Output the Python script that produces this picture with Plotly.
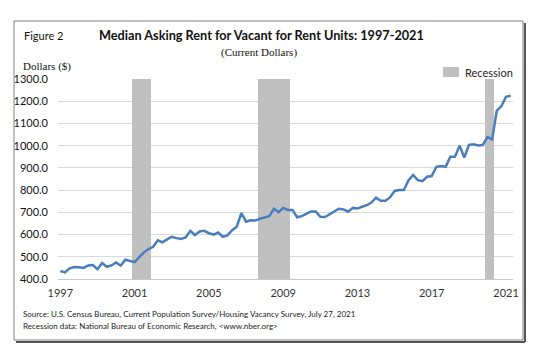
import plotly.graph_objects as go

# ---- data (quarterly, 1997Q1 - 2021Q2) ----
years = list(range(1997, 2022))
quarters = [f"{y}Q{q}" for y in years for q in range(1, 5)][:98]

rent = [
    436, 430, 448, 454,      # 1997
    453, 450, 461, 463,      # 1998
    444, 472, 455, 461,      # 1999
    474, 460, 487, 482,      # 2000
    476, 498, 520, 535,      # 2001
    545, 574, 565, 578,      # 2002
    590, 584, 580, 587,      # 2003
    617, 598, 614, 617,      # 2004
    606, 600, 609, 590,      # 2005
    596, 620, 635, 697,      # 2006
    658, 664, 663, 671,      # 2007
    676, 683, 716, 701,      # 2008
    720, 711, 711, 678,      # 2009
    683, 692, 704, 704,      # 2010
    680, 679, 691, 706,      # 2011
    716, 713, 703, 720,      # 2012
    717, 725, 732, 744,      # 2013
    766, 752, 752, 767,      # 2014
    796, 800, 800, 845,      # 2015
    868, 845, 840, 860,      # 2016
    863, 905, 908, 905,      # 2017
    950, 950, 1000, 946,     # 2018
    1003, 1006, 1001, 1003,  # 2019
    1038, 1028, 1157, 1178,  # 2020
    1220, 1225,              # 2021
]

recession_quarters = ["2001Q1", "2001Q2", "2001Q3", "2001Q4",
                      "2007Q4", "2008Q1", "2008Q2", "2008Q3", "2008Q4", "2009Q1", "2009Q2",
                      "2020Q1", "2020Q2"]

tick_labels = ["1997", "2001", "2005", "2009", "2013", "2017", "2021"]
tick_quarters = [f"{t}Q1" for t in tick_labels]

y_min, y_max = 400, 1300

# ---- build ----
idx = list(range(len(quarters)))
rec_x = [quarters.index(q) for q in recession_quarters]
rec_y = [y_max] * len(rec_x)
tick_vals = [quarters.index(q) for q in tick_quarters]

fig = go.Figure()
fig.add_trace(go.Bar(
    x=rec_x, y=rec_y, width=1.0, name="Recession",
    marker=dict(color="#c0c0c0", line=dict(width=0)),
    showlegend=False, hoverinfo="skip",
))
fig.add_trace(go.Scatter(
    x=idx, y=rent, mode="lines", name="Median asking rent",
    line=dict(color="#4a7ebb", width=2.5),
    showlegend=False,
))

FONT = "Lato, 'Open Sans', sans-serif"
SERIF = "'Liberation Serif', 'DejaVu Serif', serif"

L, R, T, B = 58, 40, 79, 81
W, H = 553, 360
pw, ph = W - L - R, H - T - B


def px(xp):
    return (xp - L) / pw


def py(yp):
    return (H - B - yp) / ph


fig.update_layout(
    width=W, height=H,
    margin=dict(l=L, r=R, t=T, b=B),
    paper_bgcolor="white", plot_bgcolor="white",
    bargap=0,
    font=dict(family=FONT, size=11, color="#222222"),
    xaxis=dict(
        range=[-0.5, len(quarters) - 0.5],
        tickmode="array", tickvals=tick_vals, ticktext=tick_labels,
        showgrid=False, zeroline=False,
        showline=True, linecolor="#c8c8c8", linewidth=1,
        ticks="", ticklabelstandoff=4,
        tickfont=dict(family=FONT, size=11, color="#333333"),
        fixedrange=True,
    ),
    yaxis=dict(
        range=[y_min, y_max], dtick=100, tick0=400,
        tickformat=".1f",
        showgrid=True, gridcolor="#d9d9d9", gridwidth=1,
        zeroline=False, showline=False,
        ticks="", ticklabelstandoff=9,
        tickfont=dict(family=FONT, size=11, color="#111111"),
        fixedrange=True,
    ),
)

shapes = [
    # outer frame
    dict(type="rect", xref="paper", yref="paper",
         x0=px(14), x1=px(523), y0=py(340), y1=py(21),
         line=dict(color="#808080", width=1), layer="below"),
    # shadow edges (right & bottom)
    dict(type="line", xref="paper", yref="paper",
         x0=px(525), x1=px(525), y0=py(342), y1=py(23),
         line=dict(color="#555555", width=2)),
    dict(type="line", xref="paper", yref="paper",
         x0=px(16), x1=px(525), y0=py(342), y1=py(342),
         line=dict(color="#555555", width=2)),
    # legend swatch
    dict(type="rect", xref="paper", yref="paper",
         x0=px(443), x1=px(459), y0=py(77), y1=py(67),
         fillcolor="#c0c0c0", line=dict(width=0)),
]
fig.update_layout(shapes=shapes)

annotations = [
    dict(text="Figure 2", x=px(22), y=py(35), xanchor="left", yanchor="middle",
         font=dict(family=FONT, size=11, color="#111111")),
    dict(text="<b>Median Asking Rent for Vacant for Rent Units: 1997-2021</b>",
         x=px(261), y=py(35), xanchor="center", yanchor="middle",
         font=dict(family=FONT, size=12.7, color="#111111")),
    dict(text="(Current Dollars)", x=px(259), y=py(52), xanchor="center", yanchor="middle",
         font=dict(family=SERIF, size=11, color="#111111")),
    dict(text="Dollars ($)", x=px(21), y=py(66), xanchor="left", yanchor="middle",
         font=dict(family=SERIF, size=11, color="#111111")),
    dict(text="Recession", x=px(463), y=py(72), xanchor="left", yanchor="middle",
         font=dict(family=FONT, size=11, color="#222222")),
    dict(text="Source: U.S. Census Bureau, Current Population Survey/Housing Vacancy Survey, July 27, 2021",
         x=px(21), y=py(314), xanchor="left", yanchor="middle",
         font=dict(family=FONT, size=8, color="#222222")),
    dict(text="Recession data: National Bureau of Economic Research, &lt;www.nber.org&gt;",
         x=px(21), y=py(326), xanchor="left", yanchor="middle",
         font=dict(family=FONT, size=8, color="#222222")),
]
for a in annotations:
    a.update(xref="paper", yref="paper", showarrow=False)
fig.update_layout(annotations=annotations)

fig.write_html(
    "out.html",
    config={"displayModeBar": False, "staticPlot": True},
    post_script="document.body.style.margin='0';document.body.style.padding='0';",
)
